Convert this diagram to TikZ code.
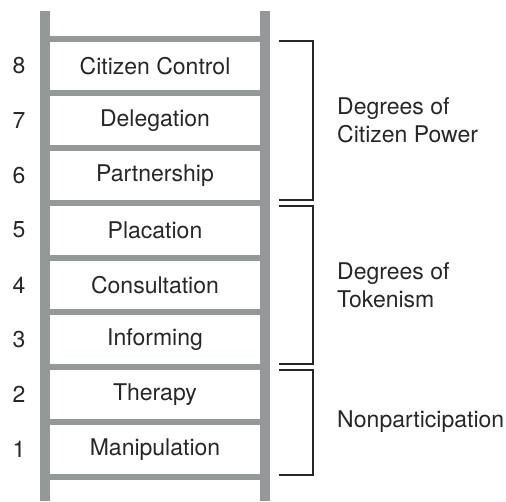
\documentclass[tikz,border=0pt]{standalone}
\usepackage{fontspec}
\setmainfont{TeX Gyre Heros}
\definecolor{railgray}{RGB}{148,152,153}
\definecolor{ink}{RGB}{40,38,38}
\begin{document}
\begin{tikzpicture}[x=1pt,y=-1pt,
  rail/.style={fill=railgray,draw=none},
  rung/.style={fill=railgray,draw=none},
  rungtext/.style={font=\fontsize{23}{28}\selectfont,text=ink,inner sep=0pt,anchor=center},
  numtext/.style={font=\fontsize{23}{28}\selectfont,text=ink,inner sep=0pt,anchor=center},
  grouptext/.style={font=\fontsize{23}{28}\selectfont,text=ink,inner sep=0pt,anchor=west,align=left},
  bracket/.style={draw=ink,line width=1.4pt}]
\useasboundingbox (0,0) rectangle (506,501);
% rails
\fill[rail] (40,11) rectangle (50,501);
\fill[rail] (260,11) rectangle (270,501);
% rungs
\foreach \k in {0,...,8}{
  \pgfmathsetmacro{\yc}{38.5+54.75*\k}
  \fill[rung] (50,\yc-3) rectangle (260,\yc+3);
}
% steps of the ladder
\foreach \k/\n/\t in {0/8/Citizen Control,1/7/Delegation,2/6/Partnership,3/5/Placation,4/4/Consultation,5/3/Informing,6/2/Therapy,7/1/Manipulation}{
  \pgfmathsetmacro{\yc}{38.5+54.75*\k+27.4}
  \node[rungtext] (step\n) at (155,\yc) {\t};
  \node[numtext] (num\n) at (19,\yc) {\n};
}
% group brackets
\coordinate (a1) at (279,41);  \coordinate (b1) at (313,41);
\coordinate (c1) at (313,200); \coordinate (d1) at (279,200);
\coordinate (a2) at (279,206); \coordinate (b2) at (313,206);
\coordinate (c2) at (313,364); \coordinate (d2) at (279,364);
\coordinate (a3) at (279,370); \coordinate (b3) at (313,370);
\coordinate (c3) at (313,475); \coordinate (d3) at (279,475);
\draw[bracket] (a1) -- (b1) -- (c1) -- (d1);
\draw[bracket] (a2) -- (b2) -- (c2) -- (d2);
\draw[bracket] (a3) -- (b3) -- (c3) -- (d3);
% group labels
\node[grouptext] (power) at (337,120) {Degrees of\\Citizen Power};
\node[grouptext] (token) at (337,285) {Degrees of\\Tokenism};
\node[grouptext] (nonpart) at (337,422) {Nonparticipation};
\end{tikzpicture}
\end{document}
